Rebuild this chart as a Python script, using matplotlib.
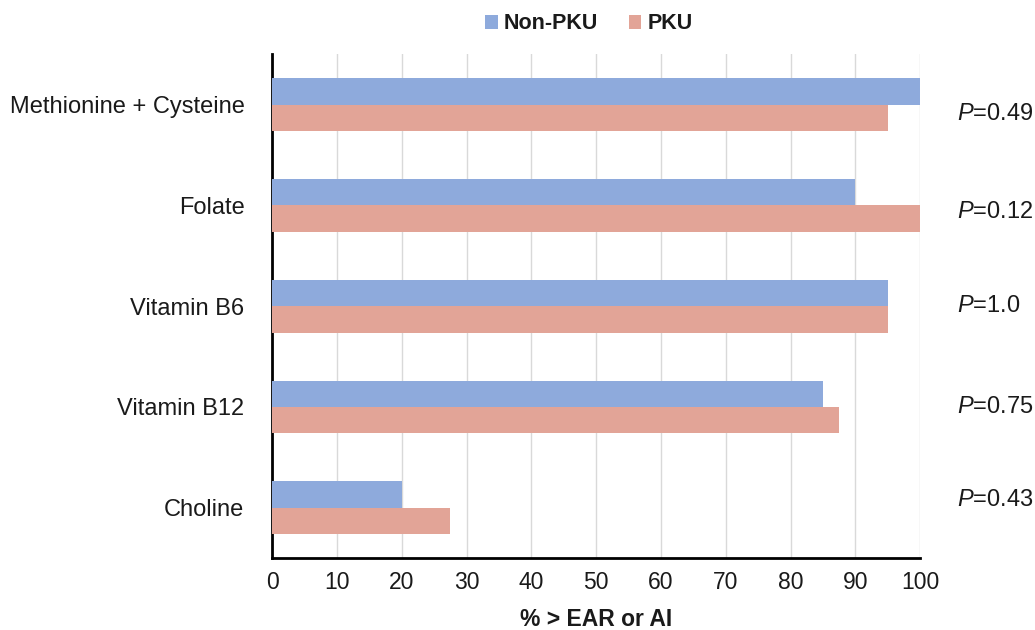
import matplotlib.pyplot as plt
import numpy as np

plt.rcParams['font.family'] = ['Liberation Sans', 'DejaVu Sans']
plt.rcParams['mathtext.fontset'] = 'custom'
plt.rcParams['mathtext.it'] = 'Liberation Sans:italic'
plt.rcParams['mathtext.rm'] = 'Liberation Sans'

nutrients = ['Methionine + Cysteine', 'Folate', 'Vitamin B6', 'Vitamin B12', 'Choline']
non_pku = [100, 90, 95, 85, 20]
pku = [95, 100, 95, 87.5, 27.5]
p_values = ['0.49', '0.12', '1.0', '0.75', '0.43']
p_shift = [0.09, 0.07, 0.0, 0.0, -0.08]

blue = '#8eaadc'
pink = '#e2a497'
ink = '#1a1a1a'

fig = plt.figure(figsize=(10.35, 6.3), dpi=100)
ax = fig.add_axes([0.263, 0.114, 0.626, 0.800])

y = np.arange(len(nutrients))
h = 0.262
ax.barh(y - h / 2, non_pku, height=h, color=blue, label='Non-PKU', zorder=3)
ax.barh(y + h / 2, pku, height=h, color=pink, label='PKU', zorder=3)

ax.set_xlim(0, 100)
ax.set_ylim(len(nutrients) - 0.5, -0.5)
ax.set_xticks(range(0, 101, 10))
ax.set_yticks(y)
ax.set_yticklabels(nutrients, fontsize=17, color=ink)
ax.tick_params(axis='x', labelsize=16.5, labelcolor=ink, length=0, pad=9)
ax.tick_params(axis='y', length=0, pad=20)
ax.grid(axis='x', color='#d9d9d9', linewidth=1, zorder=0)

for s in ['top', 'right']:
    ax.spines[s].set_visible(False)
for s in ['left', 'bottom']:
    ax.spines[s].set_linewidth(2)
    ax.spines[s].set_color('black')

for yi, pv, dy in zip(y, p_values, p_shift):
    ax.text(105.7, yi + dy, r'$\it{P}$' + '=' + pv, fontsize=17, color=ink,
            va='center', ha='left', clip_on=False)

ax.set_xlabel('% > EAR or AI', fontsize=16.5, fontweight='bold', color=ink, labelpad=10)

fig.legend(loc='center', bbox_to_anchor=(0.569, 0.962), ncol=2, frameon=False,
           prop={'size': 15.5, 'weight': 'bold'}, handlelength=0.6, handleheight=0.6,
           handletextpad=0.3, columnspacing=1.4, labelcolor=ink)

fig.savefig('out.png', dpi=100)
